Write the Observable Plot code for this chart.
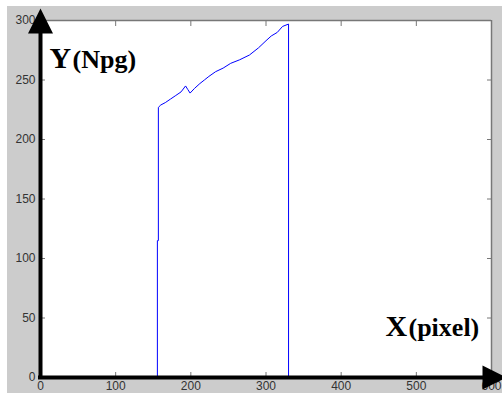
<!DOCTYPE html>
<html>
<head>
<meta charset="utf-8">
<script src="https://cdn.jsdelivr.net/npm/d3@7"></script>
<script src="https://cdn.jsdelivr.net/npm/@observablehq/plot@0.6"></script>
<style>
  html, body { margin: 0; padding: 0; background: #fff; }
</style>
</head>
<body>
<script>
// Data
const xs = [155.5, 155.5, 156.8, 156.8, 160, 166, 173, 180, 187, 193, 196, 199, 205, 212, 218, 224, 233, 243, 253, 265, 278, 290, 300, 307, 315, 322, 330, 330];
const ys = [0, 115, 115, 227, 229, 231, 234, 237, 240, 245, 242, 239, 243, 247, 250, 253, 257, 260, 264, 267, 271, 277, 283, 287, 290, 295, 297, 0];
const xTicks = [0, 100, 200, 300, 400, 500, 600];
const yTicks = [0, 50, 100, 150, 200, 250, 300];
const yLabelMain = "Y", yLabelUnit = "(Npg)";
const xLabelMain = "X", xLabelUnit = "(pixel)";

const points = xs.map((x, i) => ({x, y: ys[i]}));

const upTriangle = {
  draw(ctx) { ctx.moveTo(-12.5, 0); ctx.lineTo(0, -25); ctx.lineTo(12.5, 0); ctx.closePath(); }
};
const rightTriangle = {
  draw(ctx) { ctx.moveTo(0, -12); ctx.lineTo(24, 0); ctx.lineTo(0, 12); ctx.closePath(); }
};

const serif = "'Liberation Serif', 'Times New Roman', serif";

const chart = Plot.plot({
  width: 502,
  height: 393,
  marginLeft: 40,
  marginRight: 11,
  marginTop: 20,
  marginBottom: 16,
  style: {
    background: "#cccccc",
    boxShadow: "inset 7px 6px 0 #ffffff",
    color: "#333",
    fontFamily: "'Liberation Sans', Arial, sans-serif",
    fontSize: "12px",
    overflow: "hidden"
  },
  x: {domain: [0, 600], label: null},
  y: {domain: [0, 300], label: null},
  marks: [
    Plot.frame({fill: "white", stroke: null}),
    // tick labels
    Plot.axisY({ticks: yTicks, anchor: "left", tickSize: 0, tickPadding: 5, fontSize: 12, fill: "#333", label: null}),
    Plot.axisX({ticks: xTicks, anchor: "bottom", tickSize: 0, tickPadding: 4, fontSize: 12, fill: "#333", label: null}),
    // inward ticks
    Plot.axisY({ticks: yTicks, anchor: "left", tickSize: -5, text: null, stroke: "#777", label: null}),
    Plot.axisY({ticks: yTicks, anchor: "right", tickSize: -5, text: null, stroke: "#777", label: null}),
    Plot.axisX({ticks: xTicks, anchor: "bottom", tickSize: -5, text: null, stroke: "#777", label: null}),
    Plot.axisX({ticks: xTicks, anchor: "top", tickSize: -5, text: null, stroke: "#777", label: null}),
    // top and right box
    Plot.ruleY([300], {stroke: "#777", strokeWidth: 1.5}),
    Plot.ruleX([600], {stroke: "#777", strokeWidth: 1.5}),
    // data
    Plot.line(points, {x: "x", y: "y", stroke: "#0000ff", strokeWidth: 1}),
    // thick black axes with arrowheads
    Plot.ruleX([0], {stroke: "black", strokeWidth: 4, strokeLinecap: "square"}),
    Plot.ruleY([0], {stroke: "black", strokeWidth: 4, strokeLinecap: "square"}),
    Plot.dot([0], {frameAnchor: "top-left", dy: 13, r: 5, symbol: upTriangle, fill: "black", stroke: null}),
    Plot.dot([0], {frameAnchor: "bottom-right", dx: -9, r: 5, symbol: rightTriangle, fill: "black", stroke: null}),
    // axis titles
    Plot.text([yLabelMain], {text: d => d, frameAnchor: "top-left", dx: 9, dy: 47, textAnchor: "start", lineAnchor: "bottom", fontFamily: serif, fontWeight: "bold", fontSize: 30, fill: "black"}),
    Plot.text([yLabelUnit], {text: d => d, frameAnchor: "top-left", dx: 32, dy: 47, textAnchor: "start", lineAnchor: "bottom", fontFamily: serif, fontWeight: "bold", fontSize: 26, fill: "black"}),
    Plot.text([xLabelMain], {text: d => d, frameAnchor: "bottom-right", dx: -106, dy: -42, textAnchor: "start", lineAnchor: "bottom", fontFamily: serif, fontWeight: "bold", fontSize: 30, fill: "black"}),
    Plot.text([xLabelUnit], {text: d => d, frameAnchor: "bottom-right", dx: -83, dy: -42, textAnchor: "start", lineAnchor: "bottom", fontFamily: serif, fontWeight: "bold", fontSize: 26, fill: "black"})
  ]
});
document.body.appendChild(chart);
</script>
</body>
</html>
